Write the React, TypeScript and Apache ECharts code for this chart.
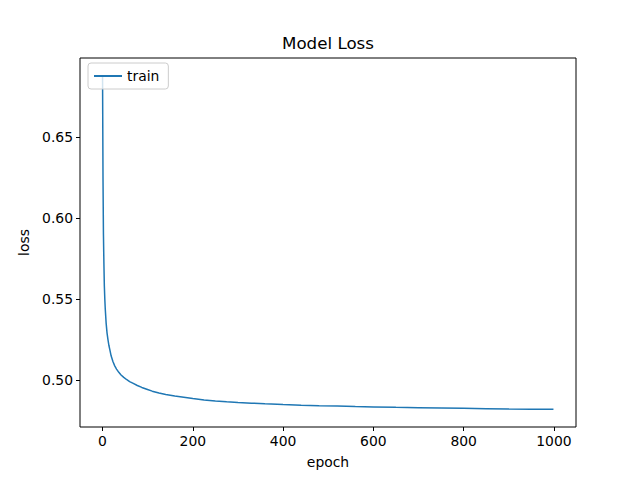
import React, { useEffect, useRef } from "react";
import * as echarts from "echarts";

const epochs = [0, 1, 2, 3, 4, 5, 6, 8, 10, 12, 14, 16, 19, 23, 27, 31, 36, 41, 47, 53, 60, 68, 77, 87, 98, 110, 125, 140, 160, 180, 200, 225, 250, 275, 300, 330, 360, 400, 440, 480, 520, 560, 600, 650, 700, 750, 800, 850, 900, 950, 999];
const trainLoss = [0.688, 0.625, 0.59, 0.572, 0.558, 0.55, 0.544, 0.535, 0.529, 0.525, 0.5215, 0.519, 0.515, 0.5115, 0.5088, 0.5068, 0.5048, 0.5032, 0.5017, 0.5004, 0.4991, 0.498, 0.4967, 0.4955, 0.4944, 0.4932, 0.4921, 0.4912, 0.4902, 0.4894, 0.4886, 0.4878, 0.4871, 0.4866, 0.4862, 0.4858, 0.4854, 0.4849, 0.4845, 0.4842, 0.484, 0.4837, 0.4835, 0.4832, 0.483, 0.4828, 0.4826, 0.4824, 0.4822, 0.4821, 0.482];
const xTicks = [0, 200, 400, 600, 800, 1000];
const yTicks = [0.5, 0.55, 0.6, 0.65];

const FONT = "DejaVu Sans";

export default function App() {
  const ref = useRef<HTMLDivElement>(null);
  useEffect(() => {
    if (!ref.current) return;
    const chart = echarts.init(ref.current, null, { renderer: "svg" });
    const data = epochs.map((e, i) => [e, trainLoss[i]]);
    chart.setOption({
      animation: false,
      backgroundColor: "#fff",
      textStyle: { fontFamily: FONT },
      graphic: [
        {
          type: "text",
          x: 328,
          y: 43,
          style: {
            text: "Model Loss",
            fontSize: 16.7,
            fontFamily: FONT,
            fill: "#000",
            textAlign: "center",
            textVerticalAlign: "middle",
          },
        },
      ],
      legend: {
        left: 88,
        top: 63,
        padding: [6, 9, 6, 6],
        itemWidth: 28,
        itemHeight: 2,
        itemGap: 8,
        icon: "rect",
        borderColor: "#cccccc",
        borderWidth: 1,
        borderRadius: 3,
        backgroundColor: "rgba(255,255,255,0.8)",
        textStyle: { fontSize: 13.9, fontFamily: FONT, color: "#000" },
        data: ["train"],
      },
      grid: {
        left: 80,
        right: 64,
        top: 58,
        bottom: 53,
        show: true,
        borderColor: "#000",
        borderWidth: 1,
        backgroundColor: "transparent",
      },
      xAxis: {
        type: "value",
        min: -49.95,
        max: 1048.95,
        name: "epoch",
        nameLocation: "middle",
        nameGap: 28,
        nameTextStyle: { fontSize: 13.9, fontFamily: FONT, color: "#000" },
        axisLine: { show: false, onZero: false },
        axisTick: { show: true, inside: false, length: 4, lineStyle: { color: "#000" }, customValues: xTicks },
        axisLabel: {
          show: true,
          margin: 7,
          fontSize: 13.9,
          fontFamily: FONT,
          color: "#000",
          customValues: xTicks,
          formatter: (v: number) => String(v),
        },
        splitLine: { show: false },
      },
      yAxis: {
        type: "value",
        min: 0.4711,
        max: 0.6986,
        name: "loss",
        nameLocation: "middle",
        nameGap: 48,
        nameTextStyle: { fontSize: 13.9, fontFamily: FONT, color: "#000" },
        axisLine: { show: false, onZero: false },
        axisTick: { show: true, inside: false, length: 4, lineStyle: { color: "#000" }, customValues: yTicks },
        axisLabel: {
          show: true,
          margin: 7,
          fontSize: 13.9,
          fontFamily: FONT,
          color: "#000",
          customValues: yTicks,
          formatter: (v: number) => v.toFixed(2),
        },
        splitLine: { show: false },
      },
      series: [
        {
          name: "train",
          type: "line",
          data,
          showSymbol: false,
          symbol: "none",
          lineStyle: { color: "#1f77b4", width: 1.5 },
          itemStyle: { color: "#1f77b4" },
        },
      ],
    });
    return () => chart.dispose();
  }, []);
  return <div ref={ref} style={{ position: "fixed", left: 0, top: 0, width: 640, height: 480 }} />;
}
